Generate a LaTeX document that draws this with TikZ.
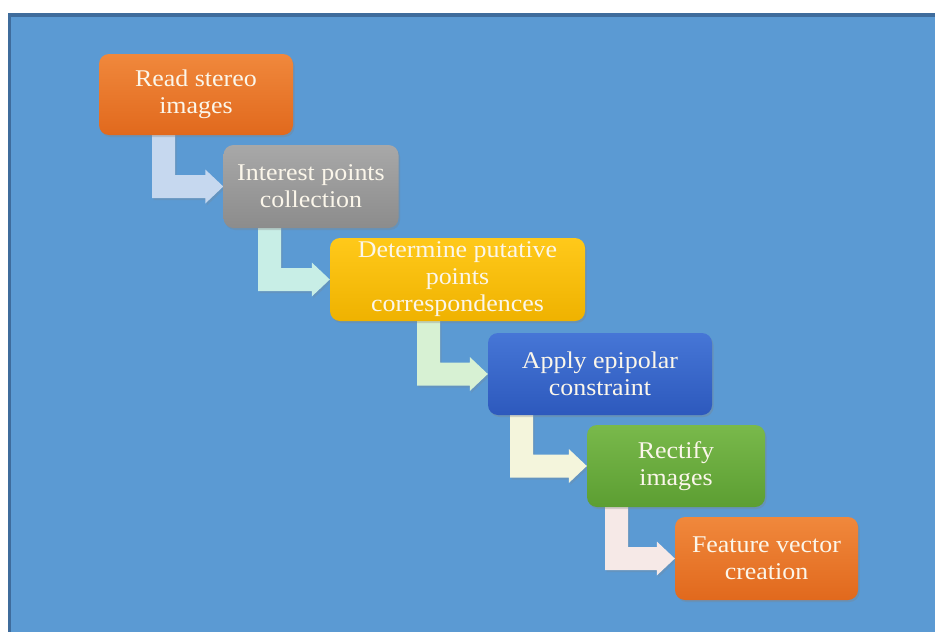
\documentclass[tikz,border=0pt]{standalone}
\usepackage{fontspec}
\newfontfamily\boxfont[FakeStretch=1.08]{Liberation Serif}
\usetikzlibrary{shadows,calc}
\pgfdeclarelayer{back}
\pgfdeclarelayer{bg}
\pgfsetlayers{back,bg,main}
\definecolor{bgblue}{HTML}{5B9AD3}
\definecolor{edgeblue}{HTML}{3F6C9C}
\definecolor{txt}{HTML}{FBF6EA}
\definecolor{orT}{HTML}{F0883C}\definecolor{orB}{HTML}{E1691D}
\definecolor{grT}{HTML}{A8A8A8}\definecolor{grB}{HTML}{8C8C8C}
\definecolor{yeT}{HTML}{FFC91A}\definecolor{yeB}{HTML}{EFB200}
\definecolor{blT}{HTML}{4676D6}\definecolor{blB}{HTML}{2D59BD}
\definecolor{gnT}{HTML}{79B94B}\definecolor{gnB}{HTML}{5C9E32}
\definecolor{ar1}{HTML}{C6D8EF}
\definecolor{ar2}{HTML}{C8EEE6}
\definecolor{ar3}{HTML}{D7F1D3}
\definecolor{ar4}{HTML}{F4F5DC}
\definecolor{ar5}{HTML}{F6E9E7}
\tikzset{
  stepbox/.style={rectangle, rounded corners=10pt, align=center, text=txt,
    font=\boxfont\fontsize{24}{27}\selectfont, inner sep=1pt,
    drop shadow={opacity=0.3, shadow xshift=1.5pt, shadow yshift=-2pt}},
  bentshadow/.style={drop shadow={opacity=0.22, shadow xshift=1.5pt, shadow yshift=-2pt}}
}
% #1 from node, #2 to node, #3 left x of vertical bar, #4 colour
\newcommand{\bentarrow}[4]{%
  \fill[#4, bentshadow] let \p1=(#1.south), \p2=(#2.west) in
    (#3pt,\y1) -- (#3pt+23pt,\y1) -- (#3pt+23pt,\y2+11.5pt) -- (\x2-18pt,\y2+11.5pt)
    -- (\x2-18pt,\y2+17pt) -- (\x2,\y2) -- (\x2-18pt,\y2-17pt) -- (\x2-18pt,\y2-11.5pt)
    -- (#3pt,\y2-11.5pt) -- cycle;}
\begin{document}
\begin{tikzpicture}[x=1pt,y=-1pt]
\useasboundingbox (0,0) rectangle (935,632);
\begin{pgfonlayer}{back}
  \fill[white] (0,0) rectangle (935,632);
  \fill[edgeblue] (8,13) rectangle (935,632);
  \fill[bgblue] (11,17) rectangle (935,632);
\end{pgfonlayer}

\node[stepbox, top color=orT, bottom color=orB, minimum width=194pt, minimum height=81pt] (n1) at (196,94.5) {Read stereo\\images};
\node[stepbox, top color=grT, bottom color=grB, minimum width=175pt, minimum height=83pt] (n2) at (311,186.5) {Interest points\\collection};
\node[stepbox, top color=yeT, bottom color=yeB, minimum width=255pt, minimum height=83pt] (n3) at (457.5,279.5) {Determine putative\\points\\correspondences};
\node[stepbox, top color=blT, bottom color=blB, minimum width=224pt, minimum height=82pt] (n4) at (600,374) {Apply epipolar\\constraint};
\node[stepbox, top color=gnT, bottom color=gnB, minimum width=178pt, minimum height=82pt] (n5) at (676,466) {Rectify\\images};
\node[stepbox, top color=orT, bottom color=orB, minimum width=183pt, minimum height=83pt] (n6) at (766.5,558.5) {Feature vector\\creation};

\begin{pgfonlayer}{bg}
  \bentarrow{n1}{n2}{152}{ar1}
  \bentarrow{n2}{n3}{258}{ar2}
  \bentarrow{n3}{n4}{417}{ar3}
  \bentarrow{n4}{n5}{510}{ar4}
  \bentarrow{n5}{n6}{605}{ar5}
\end{pgfonlayer}
\end{tikzpicture}
\end{document}
